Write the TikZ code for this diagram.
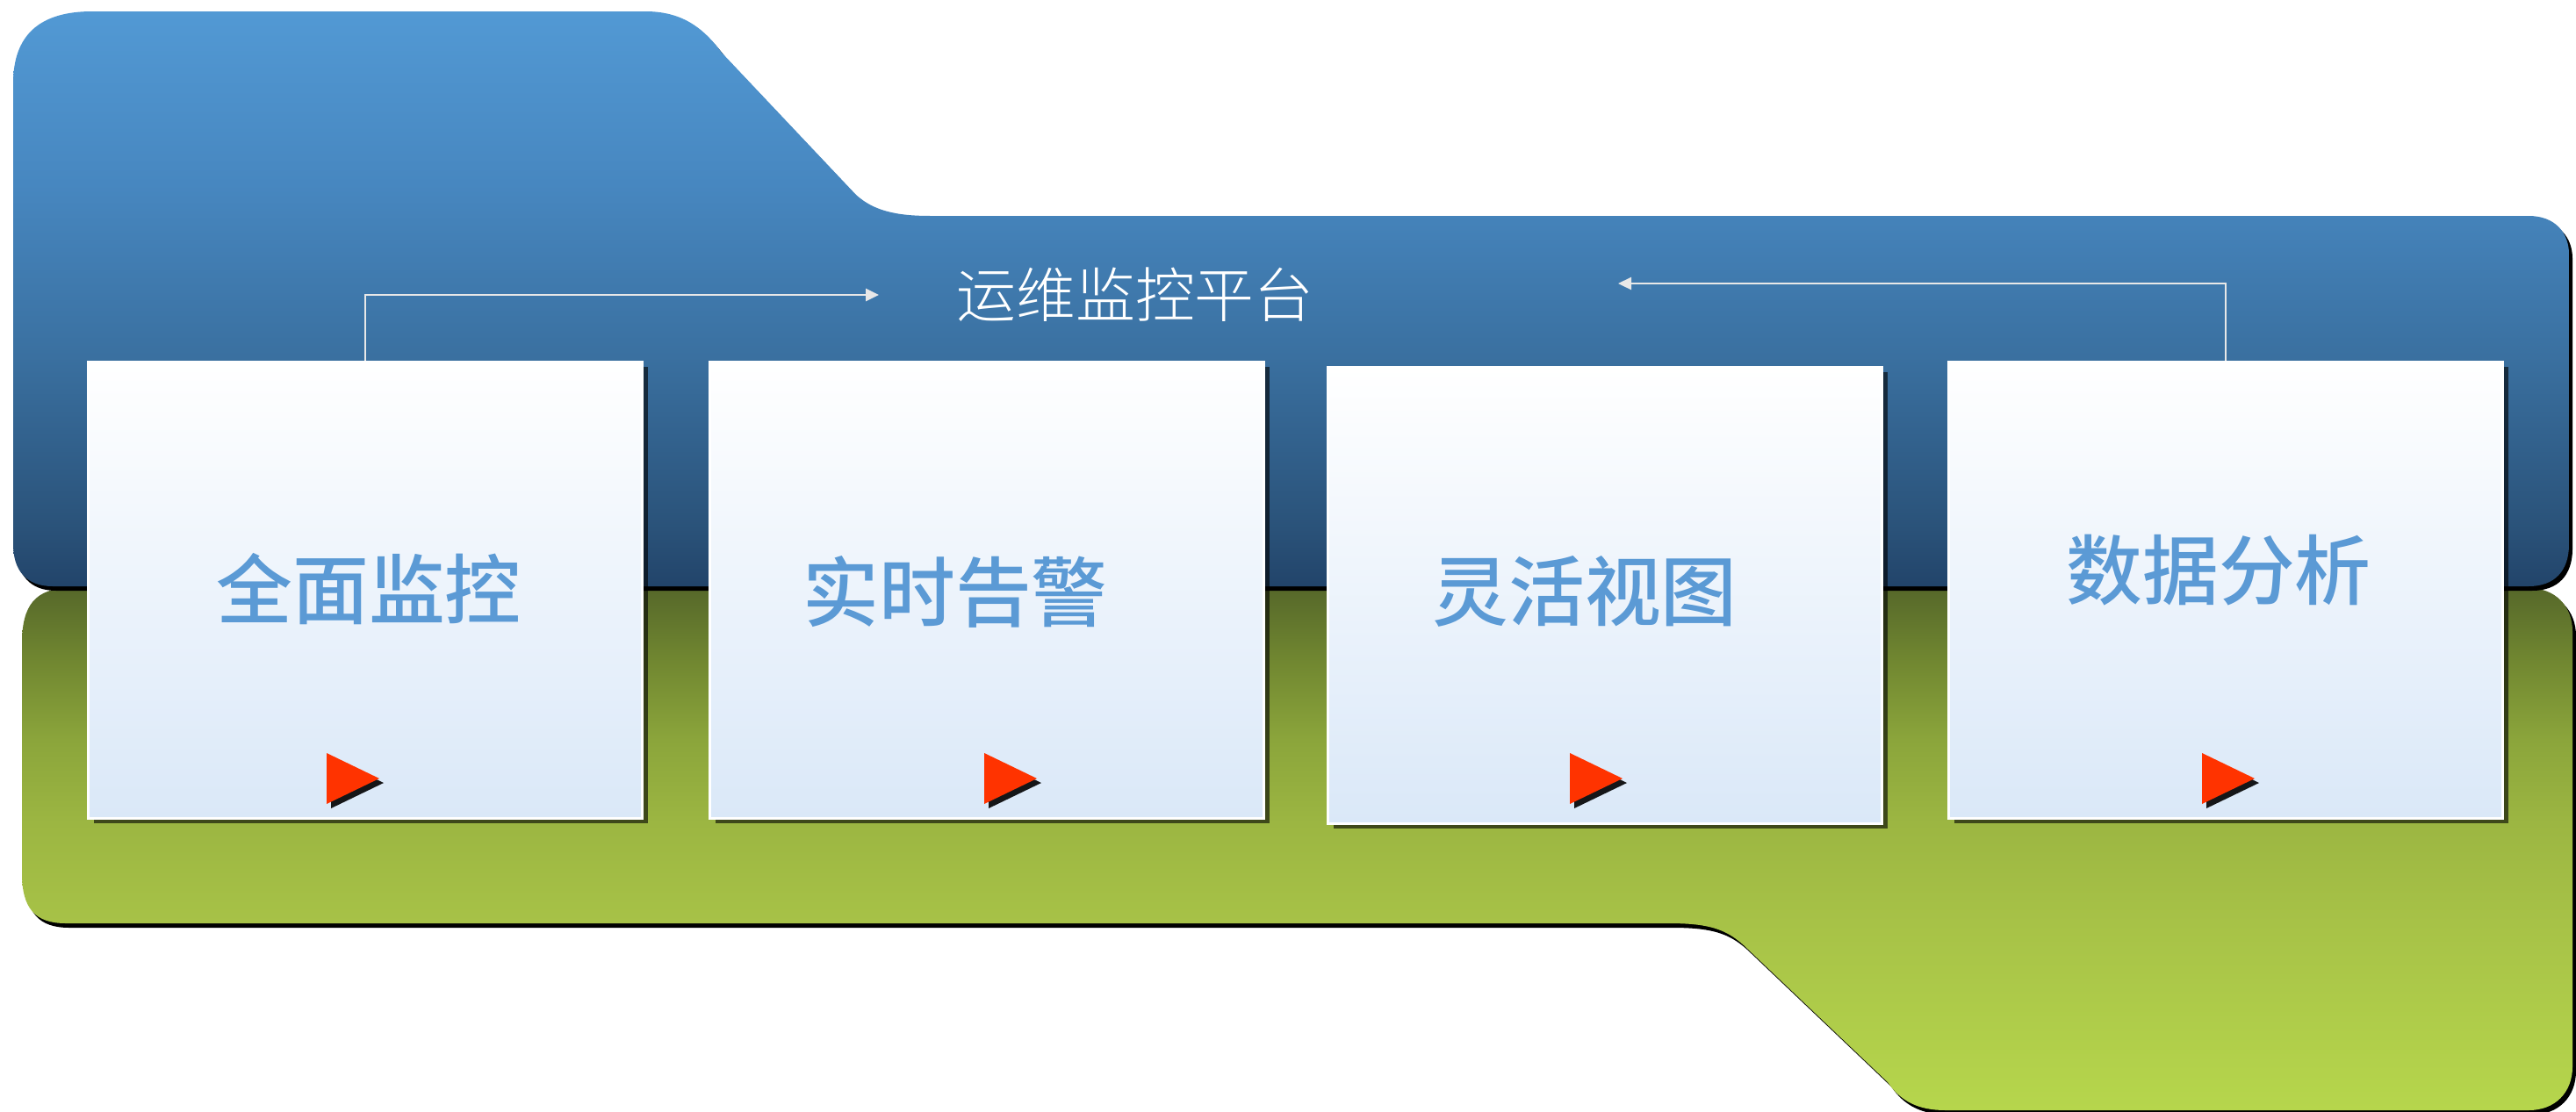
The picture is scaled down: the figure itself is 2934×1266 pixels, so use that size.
\documentclass[tikz,border=0pt]{standalone}
\usepackage{fontspec}
\newfontfamily\cjk{Noto Sans CJK SC}[UprightFont=* Medium]
\newfontfamily\cjkthin{Noto Sans CJK SC}[UprightFont=* Light]
\usetikzlibrary{arrows.meta,shadows}
\definecolor{cardlow}{HTML}{DAE8F8}
\definecolor{inkblue}{HTML}{5B9AD5}
\definecolor{linegray}{HTML}{E8E8E8}
\definecolor{playred}{HTML}{FF3300}
\pgfdeclareverticalshading{skyfade}{100bp}{color(0bp)=(rgb,255:red,34;green,68;blue,106); color(25bp)=(rgb,255:red,34;green,68;blue,106); color(30bp)=(rgb,255:red,42;green,82;blue,121); color(45bp)=(rgb,255:red,58;green,112;blue,160); color(60bp)=(rgb,255:red,71;green,135;blue,192); color(75bp)=(rgb,255:red,82;green,153;blue,212); color(100bp)=(rgb,255:red,82;green,153;blue,212)}
\pgfdeclareverticalshading{olivefade}{100bp}{color(0bp)=(rgb,255:red,182;green,214;blue,76); color(25bp)=(rgb,255:red,182;green,214;blue,76); color(43bp)=(rgb,255:red,167;green,194;blue,71); color(52.5bp)=(rgb,255:red,156;green,182;blue,66); color(60.5bp)=(rgb,255:red,139;green,165;blue,59); color(68.5bp)=(rgb,255:red,111;green,133;blue,48); color(75bp)=(rgb,255:red,86;green,104;blue,42); color(100bp)=(rgb,255:red,86;green,104;blue,42)}
\tikzstyle{band} = [drop shadow={shadow xshift=0.4mm, shadow yshift=-0.5mm, opacity=1, fill=black}]
\tikzstyle{card} = [draw=white, line width=0.3mm, minimum width=63.1mm, minimum height=52mm, top color=white, bottom color=cardlow, drop shadow={shadow xshift=0.6mm, shadow yshift=-0.6mm, opacity=0.6, fill=black}]
\tikzstyle{cardtext} = [font={\cjk\fontsize{24.7}{26}\selectfont}, text=inkblue]
\tikzstyle{flow} = [draw=linegray, line width=0.25mm, -{Triangle[length=1.5mm, width=1.4mm]}]
\tikzstyle{play} = [fill=playred, drop shadow={shadow xshift=0.5mm, shadow yshift=-0.5mm, opacity=0.9, fill=black}]

\begin{document}
\begin{tikzpicture}[x=0.1mm, y=-0.1mm]
  \useasboundingbox (0,0) rectangle (2934,1266);
  % green band
  \path[band, shading=olivefade]
    (25,733) .. controls (25,690) and (40,670) .. (80,670) -- (2880,670)
    .. controls (2910,670) and (2930,690) .. (2930,720) -- (2930,1215)
    .. controls (2930,1245) and (2910,1265) .. (2880,1265) -- (2216,1265)
    .. controls (2185,1265) and (2165,1255) .. (2150,1233) -- (1986,1077)
    .. controls (1965,1058) and (1945,1052) .. (1900,1052) -- (75,1052)
    .. controls (40,1052) and (25,1035) .. (25,995) -- cycle;
  % blue band
  \path[band, shading=skyfade]
    (15,95) .. controls (15,40) and (45,13) .. (105,13) -- (735,13)
    .. controls (775,13) and (800,30) .. (822,60) -- (975,222)
    .. controls (995,240) and (1020,246) .. (1060,246) -- (2880,246)
    .. controls (2910,246) and (2926,265) .. (2926,290) -- (2926,620)
    .. controls (2926,650) and (2910,668) .. (2880,668) -- (60,668)
    .. controls (30,668) and (15,650) .. (15,620) -- cycle;

  \node[card](1) at (416,672){};
  \node[card](2) at (1124,672){};
  \node[card](3) at (1828,678){};
  \node[card](4) at (2535,672){};
  \node[cardtext] at (420,671){全面监控};
  \node[cardtext] at (1088,674){实时告警};
  \node[cardtext] at (1805,674){灵活视图};
  \node[cardtext] at (2527,650){数据分析};

  \node[font={\cjkthin\fontsize{19.3}{21}\selectfont}, text=white](p) at (1293,336){运维监控平台};
  \coordinate (back) at (1843,323);
  \draw[flow](1.north) |- ([xshift=-7.6mm]p.west);
  \draw[flow](4.north) |- (back);

  \fill[play] (402,887) ++(-30,-29) -- ++(60,29) -- ++(-60,29) -- cycle;
  \fill[play] (1151,887) ++(-30,-29) -- ++(60,29) -- ++(-60,29) -- cycle;
  \fill[play] (1818,887) ++(-30,-29) -- ++(60,29) -- ++(-60,29) -- cycle;
  \fill[play] (2538,887) ++(-30,-29) -- ++(60,29) -- ++(-60,29) -- cycle;
\end{tikzpicture}
\end{document}
